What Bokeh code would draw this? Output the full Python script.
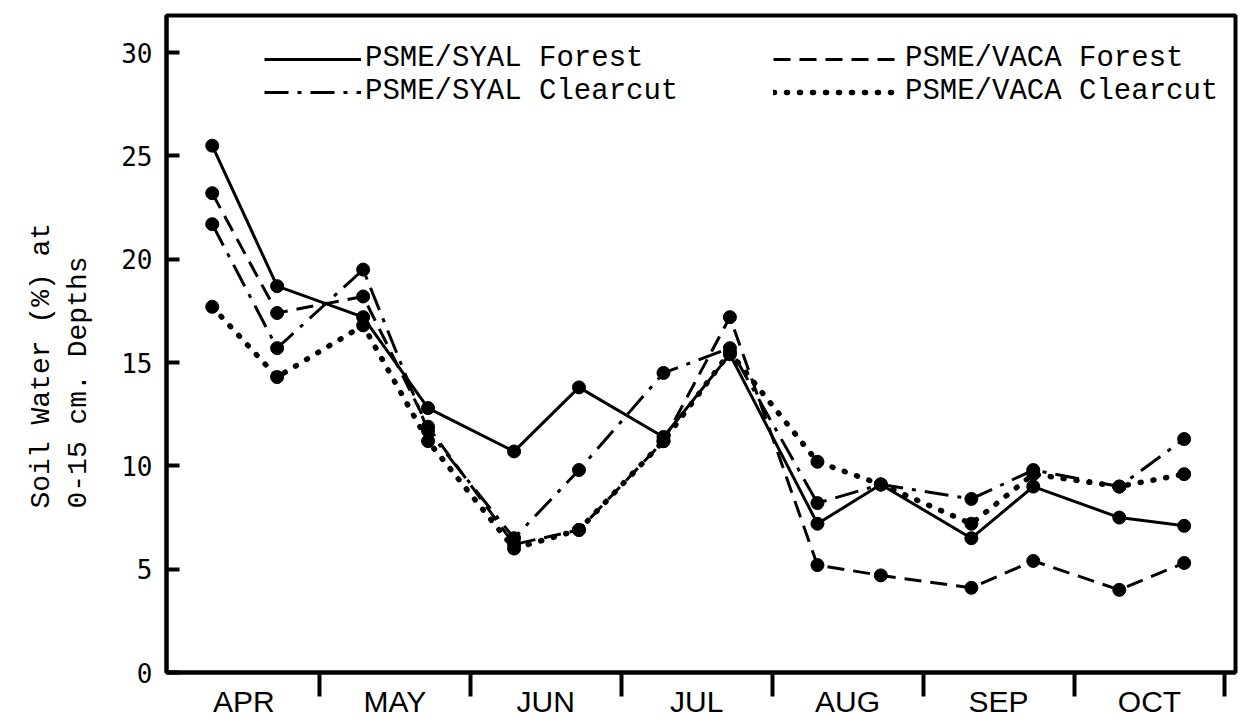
from bokeh.plotting import figure
from bokeh.models import Range1d, FixedTicker, Legend, LegendItem, Title
from bokeh.embed import file_html
from bokeh.resources import INLINE

# Sampling dates, expressed in months after 1 April (0 = start of APR)
sample_pos = [0.29, 0.72, 1.29, 1.72, 2.29, 2.72, 3.28, 3.72,
              4.30, 4.72, 5.32, 5.73, 6.30, 6.73]

months = ["APR", "MAY", "JUN", "JUL", "AUG", "SEP", "OCT"]

# Soil water (%) at 0-15 cm depth
syal_forest = [25.5, 18.7, 17.2, 12.8, 10.7, 13.8, 11.4, 15.4,
               7.2, 9.1, 6.5, 9.0, 7.5, 7.1]
vaca_forest = [23.2, 17.4, 18.2, 11.9, 6.2, 6.9, 11.2, 17.2,
               5.2, 4.7, 4.1, 5.4, 4.0, 5.3]
syal_clearcut = [21.7, 15.7, 19.5, 11.7, 6.5, 9.8, 14.5, 15.7,
                 8.2, 9.1, 8.4, 9.8, 9.0, 11.3]
vaca_clearcut = [17.7, 14.3, 16.8, 11.2, 6.0, 6.9, 11.2, 15.5,
                 10.2, 9.1, 7.2, 9.6, 9.0, 9.6]

y_ticks = [0, 5, 10, 15, 20, 25, 30]
y_title = "Soil Water (%) at\n 0-15 cm. Depths"

MONO = "Liberation Mono"
SANS = "Liberation Sans"

p = figure(width=1241, height=723, output_backend="svg", toolbar_location=None,
           x_range=Range1d(-0.013, 7.07), y_range=Range1d(0, 31.8),
           min_border_left=165, min_border_right=6, min_border_top=15,
           min_border_bottom=51)
p.background_fill_color = "white"
p.border_fill_color = "white"
p.xgrid.visible = False
p.ygrid.visible = False
p.outline_line_color = "black"
p.outline_line_width = 4

series = [
    ("PSME/SYAL Forest", syal_forest, None),
    ("PSME/SYAL Clearcut", syal_clearcut, "24 9 4 9"),
    ("PSME/VACA Forest", vaca_forest, "17 9"),
    ("PSME/VACA Clearcut", vaca_clearcut, "1 12"),
]

renderers = {}
for name, vals, dash in series:
    kw = dict(line_color="black", line_width=3)
    if dash is not None:
        kw["line_dash"] = dash
    if dash == "1 12":
        kw["line_cap"] = "round"
        kw["line_width"] = 5.5
    r = p.line(sample_pos, vals, **kw)
    p.scatter(sample_pos, vals, size=13, marker="circle",
              fill_color="black", line_color="black")
    renderers[name] = r

# X axis: month names centred in each month, ticks on the month boundaries
p.xaxis.ticker = FixedTicker(ticks=[i + 0.5 for i in range(len(months))],
                             minor_ticks=list(range(1, len(months) + 1)))
p.xaxis.major_label_overrides = {i + 0.5: m for i, m in enumerate(months)}
p.xaxis.major_tick_out = 0
p.xaxis.major_tick_in = 0
p.xaxis.minor_tick_out = 24
p.xaxis.minor_tick_in = 0
p.xaxis.minor_tick_line_width = 4
p.xaxis.minor_tick_line_color = "black"
p.xaxis.axis_line_width = 4
p.xaxis.axis_line_color = "black"
p.xaxis.major_label_text_font = SANS
p.xaxis.major_label_text_font_size = "30px"
p.xaxis.major_label_text_color = "black"
p.xaxis.major_label_standoff = -12

# Y axis
p.yaxis.ticker = FixedTicker(ticks=y_ticks)
p.yaxis.major_tick_in = 13
p.yaxis.major_tick_out = 0
p.yaxis.major_tick_line_width = 4
p.yaxis.minor_tick_line_color = None
p.yaxis.axis_line_width = 4
p.yaxis.axis_line_color = "black"
p.yaxis.major_label_text_font = "DejaVu Sans Mono"
p.yaxis.major_label_text_font_size = "26px"
p.yaxis.major_label_text_color = "black"
p.yaxis.major_label_standoff = 14

# Two-line y-axis title, set a little below the middle of the axis
p.add_layout(Title(text=y_title, align="left", offset=164, standoff=48,
                   text_font=MONO, text_font_size="28px", text_line_height=1.2,
                   text_font_style="normal", text_color="black"), "left")

def make_legend(names, glyph_w, loc):
    leg = Legend(items=[LegendItem(label=n, renderers=[renderers[n]]) for n in names],
                 location=loc, orientation="vertical",
                 glyph_width=glyph_w, glyph_height=20, label_height=20,
                 label_standoff=4, spacing=0, padding=0, margin=0,
                 border_line_color=None, background_fill_alpha=0,
                 label_text_font=MONO, label_text_font_size="29px",
                 label_text_color="black")
    p.add_layout(leg, "center")
    return leg

make_legend(["PSME/SYAL Forest", "PSME/SYAL Clearcut"], 97, (98, 564))
make_legend(["PSME/VACA Forest", "PSME/VACA Clearcut"], 128, (607, 564))

open("out.html", "w").write(file_html(p, INLINE))
